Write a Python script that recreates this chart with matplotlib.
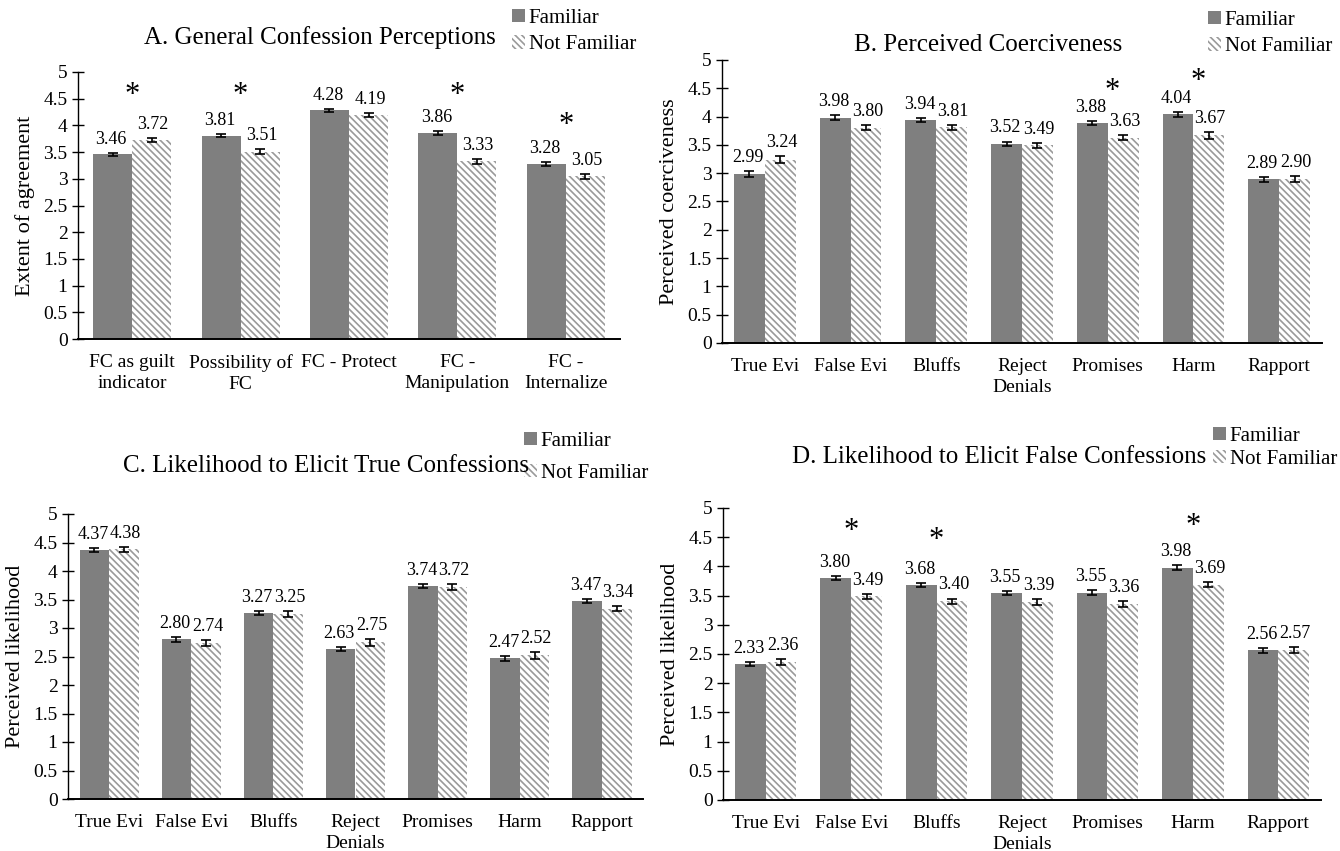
import matplotlib
matplotlib.use("Agg")
import matplotlib.pyplot as plt
import numpy as np
from matplotlib.patches import Patch

plt.rcParams['font.family'] = ['Liberation Serif', 'DejaVu Serif']
plt.rcParams['hatch.linewidth'] = 1.2
plt.rcParams['hatch.color'] = '#9a9a9a'

DARK = '#7f7f7f'
HATCH = '\\' * 5

# panel A
cats_a = ['FC as guilt\nindicator', 'Possibility of\nFC', 'FC - Protect', 'FC -\nManipulation', 'FC -\nInternalize']
fam_a = [3.46, 3.81, 4.28, 3.86, 3.28]
nf_a = [3.72, 3.51, 4.19, 3.33, 3.05]
fam_a_se = [0.03, 0.03, 0.025, 0.035, 0.035]
nf_a_se = [0.035, 0.04, 0.035, 0.045, 0.045]
star_a = [4.56, 4.56, None, 4.56, 3.99]

# panels B-D share categories
cats_tech = ['True Evi', 'False Evi', 'Bluffs', 'Reject\nDenials', 'Promises', 'Harm', 'Rapport']

fam_b = [2.99, 3.98, 3.94, 3.52, 3.88, 4.04, 2.89]
nf_b = [3.24, 3.80, 3.81, 3.49, 3.63, 3.67, 2.90]
fam_b_se = [0.05, 0.04, 0.035, 0.04, 0.035, 0.045, 0.04]
nf_b_se = [0.06, 0.045, 0.045, 0.05, 0.05, 0.06, 0.05]
star_b = [None, None, None, None, 4.44, 4.62, None]

fam_c = [4.37, 2.80, 3.27, 2.63, 3.74, 2.47, 3.47]
nf_c = [4.38, 2.74, 3.25, 2.75, 3.72, 2.52, 3.34]
fam_c_se = [0.03, 0.04, 0.035, 0.035, 0.035, 0.045, 0.035]
nf_c_se = [0.04, 0.05, 0.05, 0.06, 0.05, 0.06, 0.05]
star_c = [None] * 7

fam_d = [2.33, 3.80, 3.68, 3.55, 3.55, 3.98, 2.56]
nf_d = [2.36, 3.49, 3.40, 3.39, 3.36, 3.69, 2.57]
fam_d_se = [0.04, 0.035, 0.035, 0.035, 0.04, 0.04, 0.04]
nf_d_se = [0.05, 0.045, 0.05, 0.05, 0.055, 0.045, 0.05]
star_d = [None, 4.60, 4.45, None, None, 4.68, None]

fig = plt.figure(figsize=(13.4, 8.51), dpi=100)


def panel(rect, cats, fam, nf, fse, nse, stars, ylabel, title, title_xy, leg_xy,
          star_dx=0.0, legsp=0.35):
    ax = fig.add_axes(rect)
    x = np.arange(len(cats))
    w = 0.36
    ax.bar(x - w / 2, fam, w, color=DARK, edgecolor='none', zorder=2)
    ax.bar(x + w / 2, nf, w, color='white', edgecolor='#9a9a9a', linewidth=0,
           hatch=HATCH, zorder=2)
    ax.errorbar(x - w / 2, fam, yerr=fse, fmt='none', ecolor='black',
                elinewidth=1.2, capsize=3.5, capthick=1.2, zorder=3)
    ax.errorbar(x + w / 2, nf, yerr=nse, fmt='none', ecolor='black',
                elinewidth=1.2, capsize=3.5, capthick=1.2, zorder=3)
    for xi, v, e in zip(x - w / 2, fam, fse):
        ax.annotate(f'{v:.2f}', (xi, v + e), xytext=(-1, 6.5), textcoords='offset points',
                    ha='center', va='baseline', fontsize=13)
    for xi, v, e in zip(x + w / 2, nf, nse):
        ax.annotate(f'{v:.2f}', (xi, v + e), xytext=(1, 6.5), textcoords='offset points',
                    ha='center', va='baseline', fontsize=13)
    for xi, s in zip(x, stars):
        if s is not None:
            ax.text(xi + star_dx, s, '*', ha='center', va='center', fontsize=22)
    ax.set_xlim(-0.5, len(cats) - 0.5)
    ax.set_ylim(0, 5)
    ax.set_yticks(np.arange(0, 5.01, 0.5))
    ax.set_yticklabels([f'{t:g}' for t in np.arange(0, 5.01, 0.5)], fontsize=14)
    ax.set_xticks(x)
    ax.set_xticklabels(cats, fontsize=14, linespacing=1.3)
    ax.tick_params(axis='x', length=0, pad=11)
    ax.tick_params(axis='y', direction='inout', length=9, width=1, pad=3)
    ax.spines['top'].set_visible(False)
    ax.spines['right'].set_visible(False)
    ax.spines['bottom'].set_linewidth(1.4)
    ax.spines['left'].set_linewidth(1.0)
    ax.set_ylabel(ylabel, fontsize=16, labelpad=6)
    fig.text(title_xy[0] / 1340, 1 - title_xy[1] / 851, title, fontsize=18,
             ha='center', va='center')
    handles = [Patch(facecolor=DARK, edgecolor='none'),
               Patch(facecolor='white', edgecolor='#9a9a9a', linewidth=0, hatch=HATCH)]
    ax.legend(handles, ['Familiar', 'Not Familiar'], loc='upper left',
              bbox_to_anchor=(leg_xy[0] / 1340, 1 - leg_xy[1] / 851),
              bbox_transform=fig.transFigure, frameon=False, fontsize=15,
              handlelength=0.6, handleheight=0.6, handletextpad=0.2,
              labelspacing=legsp, borderpad=0, borderaxespad=0)
    return ax


panel([78 / 1340, 1 - 339 / 851, 542 / 1340, 267 / 851], cats_a, fam_a, nf_a,
      fam_a_se, nf_a_se, star_a, 'Extent of agreement',
      'A. General Confession Perceptions', (320, 38), (512, 9))
panel([722 / 1340, 1 - 343 / 851, 600 / 1340, 283 / 851], cats_tech, fam_b, nf_b,
      fam_b_se, nf_b_se, star_b, 'Perceived coerciveness',
      'B. Perceived Coerciveness', (988, 45), (1208, 11), star_dx=0.05)
panel([68 / 1340, 1 - 799 / 851, 575 / 1340, 285 / 851], cats_tech, fam_c, nf_c,
      fam_c_se, nf_c_se, star_c, 'Perceived likelihood',
      'C. Likelihood to Elicit True Confessions', (326, 466), (524, 432), legsp=0.6)
panel([723 / 1340, 1 - 800 / 851, 598 / 1340, 292 / 851], cats_tech, fam_d, nf_d,
      fam_d_se, nf_d_se, star_d, 'Perceived likelihood',
      'D. Likelihood to Elicit False Confessions', (999, 457), (1213, 427), legsp=0.2)

fig.savefig('out.png', dpi=100)
